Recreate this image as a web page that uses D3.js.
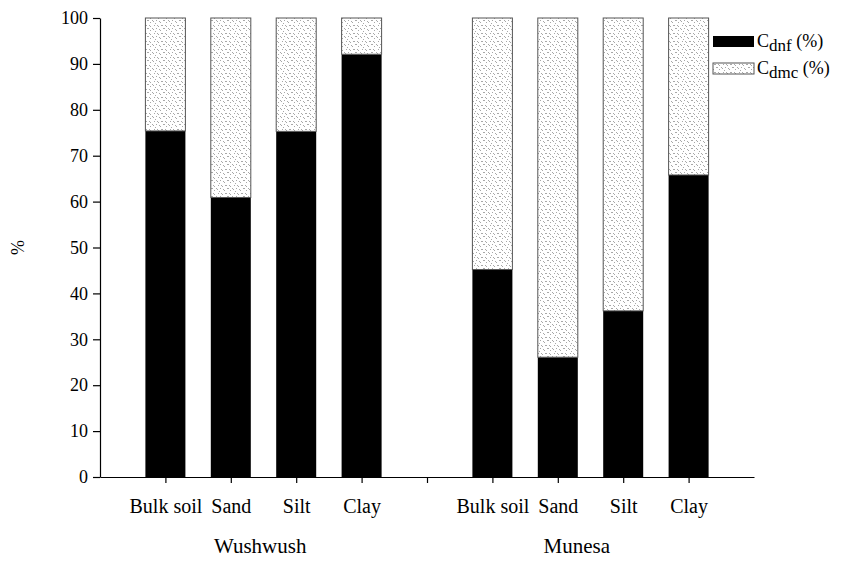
<!DOCTYPE html>
<html>
<head>
<meta charset="utf-8">
<script src="https://cdn.jsdelivr.net/npm/d3@7"></script>
<style>
  body { margin: 0; background: #fff; }
  svg text { font-family: "Liberation Serif", "Times New Roman", Times, "DejaVu Serif", serif; fill: #000; }
</style>
</head>
<body>
<div id="chart"></div>
<script>
// dades
let categories = ['Bulk soil', 'Sand', 'Silt', 'Clay']
let sites = ['Wushwush', 'Munesa']
let cdnfWushwush = [75.4, 60.9, 75.3, 92.1]
let cdmcWushwush = [24.6, 39.1, 24.7, 7.9]
let cdnfMunesa = [45.2, 26.1, 36.2, 65.8]
let cdmcMunesa = [54.8, 73.9, 63.8, 34.2]
let yTicks = [0, 10, 20, 30, 40, 50, 60, 70, 80, 90, 100]

// mides
let ample = 842
let alt = 561
let marge = { left: 100, right: 88, top: 18, bottom: 84 }
let ampleBarra = 40
let font = '"Liberation Serif", "Times New Roman", Times, "DejaVu Serif", serif'

// files per al gràfic (un buit entre els dos llocs)
let files = []
categories.forEach((c, i) => files.push({ key: 'W-' + c, cat: c, cdnf: cdnfWushwush[i], cdmc: cdmcWushwush[i] }))
files.push({ key: 'gap', cat: '', cdnf: 0, cdmc: 0 })
categories.forEach((c, i) => files.push({ key: 'M-' + c, cat: c, cdnf: cdnfMunesa[i], cdmc: cdmcMunesa[i] }))

let svg = d3.select('#chart')
  .append('svg')
  .attr('width', ample)
  .attr('height', alt)
  .attr('font-family', font)

// textura puntejada de la part Cdmc (files de punts grisos)
let punts = [[1, 1], [2, 1], [5, 1], [6, 2], [10, 1], [13, 1], [14, 2],
  [3, 4], [4, 4], [8, 4], [9, 5], [12, 4], [15, 5], [0, 6], [6, 6], [11, 7]]
let pat = svg.append('defs').append('pattern')
  .attr('id', 'puntejat')
  .attr('patternUnits', 'userSpaceOnUse')
  .attr('width', 16)
  .attr('height', 8)
pat.append('rect').attr('width', 16).attr('height', 8).attr('fill', '#fff')
pat.selectAll('rect.p')
  .data(punts)
  .enter()
  .append('rect')
  .attr('class', 'p')
  .attr('x', d => d[0])
  .attr('y', d => d[1])
  .attr('width', 1)
  .attr('height', 1)
  .attr('fill', '#a8a8a8')

let x = d3.scalePoint()
  .domain(files.map(d => d.key))
  .range([marge.left, ample - marge.right])
  .padding(1)

let y = d3.scaleLinear()
  .domain([0, 100])
  .range([alt - marge.bottom, marge.top])

let stack = d3.stack().keys(['cdnf', 'cdmc'])
let capes = stack(files.filter(d => d.key != 'gap'))

let grups = svg.selectAll('g.capa')
  .data(capes)
  .enter()
  .append('g')
  .attr('class', 'capa')

grups.selectAll('rect')
  .data(d => d.map(v => ({ capa: d.key, v: v })))
  .enter()
  .append('rect')
  .attr('x', d => x(d.v.data.key) - ampleBarra / 2)
  .attr('y', d => y(d.v[1]))
  .attr('width', ampleBarra)
  .attr('height', d => y(d.v[0]) - y(d.v[1]))
  .attr('fill', d => d.capa == 'cdnf' ? '#000' : 'url(#puntejat)')
  .attr('stroke', d => d.capa == 'cdnf' ? 'none' : '#555')
  .attr('stroke-width', 1)

// eix Y
let eixY = svg.append('g')
  .attr('transform', `translate(${marge.left},0)`)
  .call(d3.axisLeft(y).tickValues(yTicks).tickSize(7).tickSizeOuter(0).tickPadding(5))
eixY.attr('font-family', font)
eixY.selectAll('text').style('font-size', '18px').style('font-family', font)

// eix X
let eixX = svg.append('g')
  .attr('transform', `translate(0,${alt - marge.bottom})`)
  .call(d3.axisBottom(x).tickSize(6).tickSizeOuter(0).tickPadding(16)
    .tickFormat(k => files.find(d => d.key == k).cat))
eixX.attr('font-family', font)
eixX.selectAll('text').style('font-size', '20px').style('font-family', font)

svg.selectAll('.domain, .tick line').attr('stroke', '#000').attr('stroke-width', 1.2)

// noms dels llocs
let pas = x.step()
let posLloc = [x('W-Sand') + pas * 0.45, x('M-Sand') + pas * 0.29]
svg.selectAll('text.lloc')
  .data(sites)
  .enter()
  .append('text')
  .attr('class', 'lloc')
  .attr('x', (d, i) => posLloc[i])
  .attr('y', 553)
  .attr('text-anchor', 'middle')
  .style('font-size', '21px')
  .text(d => d)

// títol eix Y
svg.append('text')
  .attr('transform', `translate(24,${y(50)}) rotate(-90)`)
  .attr('text-anchor', 'middle')
  .style('font-size', '18px')
  .text('%')

// llegenda
let llegenda = [
  { sub: 'dnf', fill: '#000', stroke: 'none' },
  { sub: 'dmc', fill: 'url(#puntejat)', stroke: '#555' }
]
let lg = svg.selectAll('g.llegenda')
  .data(llegenda)
  .enter()
  .append('g')
  .attr('class', 'llegenda')
  .attr('transform', (d, i) => `translate(713,${36 + i * 27})`)
lg.append('rect')
  .attr('width', 41)
  .attr('height', 11)
  .attr('fill', d => d.fill)
  .attr('stroke', d => d.stroke)
let lt = lg.append('text')
  .attr('x', 44)
  .attr('y', 11)
  .style('font-size', '18px')
lt.append('tspan').text('C')
lt.append('tspan').attr('dy', 4).style('font-size', '17px').text(d => d.sub)
lt.append('tspan').attr('dy', -4).text(' (%)')
</script>
</body>
</html>
